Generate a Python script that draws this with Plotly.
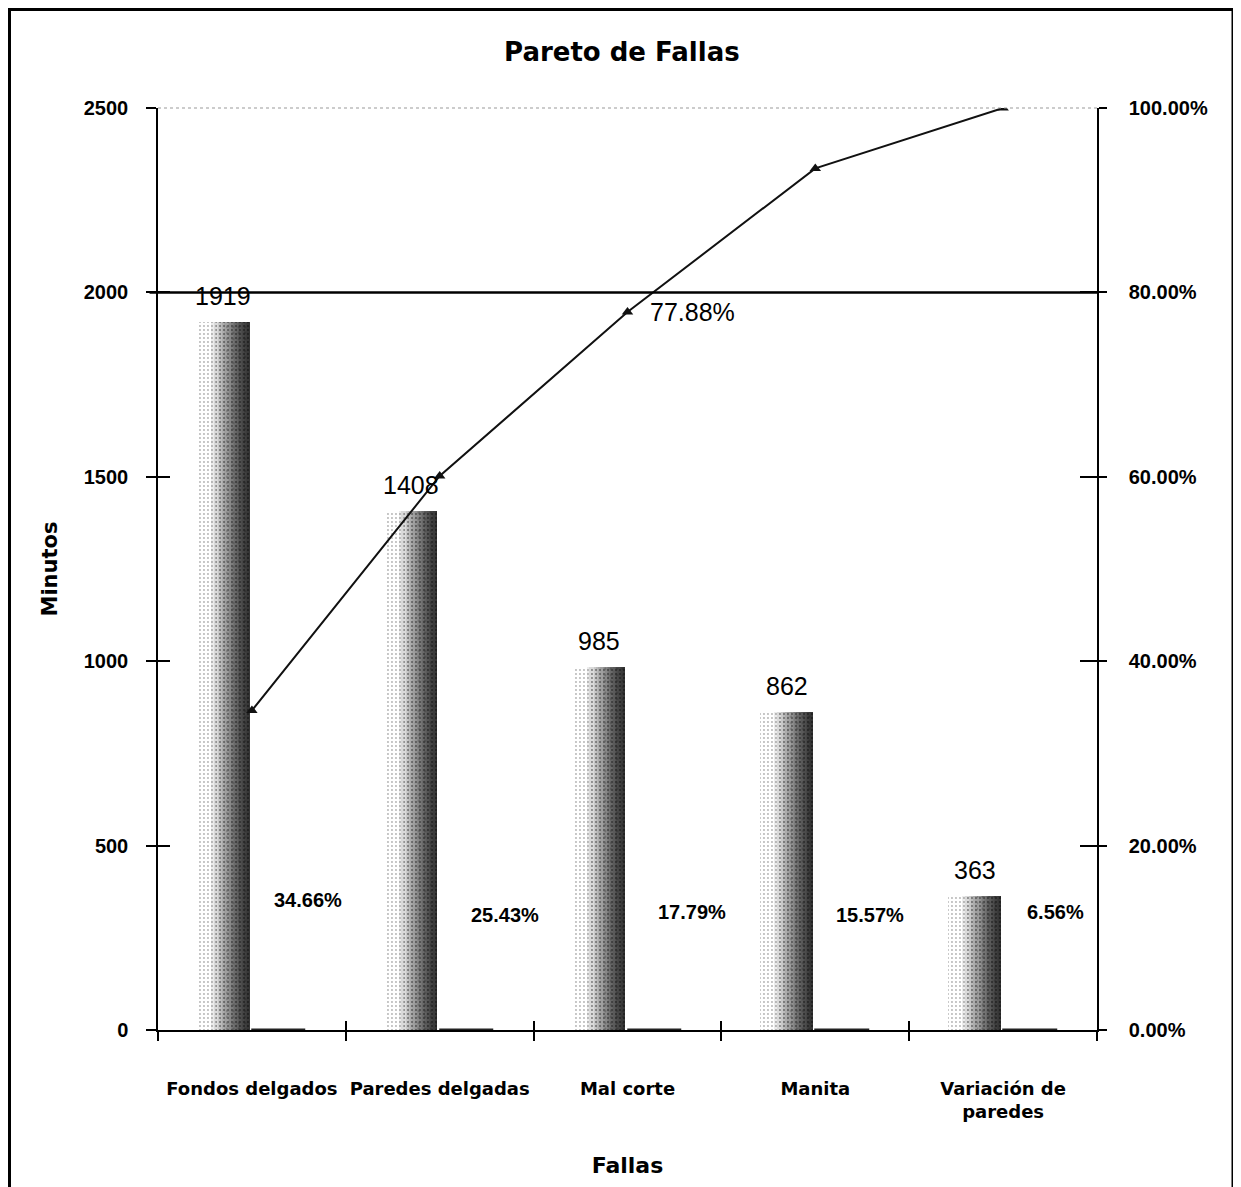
import plotly.graph_objects as go

# ---------------- data ----------------
categories = ["Fondos delgados", "Paredes delgadas", "Mal corte", "Manita", "Variación de<br>paredes"]
minutes = [1919, 1408, 985, 862, 363]
pct = [0.3466, 0.2543, 0.1779, 0.1557, 0.0656]
pct_labels = ["34.66%", "25.43%", "17.79%", "15.57%", "6.56%"]
cum_pct = [0.3466, 0.6009, 0.7788, 0.9345, 1.0]
left_ticks = [0, 500, 1000, 1500, 2000, 2500]
right_ticks = [0, 0.2, 0.4, 0.6, 0.8, 1.0]
threshold = 0.80

# ---------------- style / layout constants ----------------
x = list(range(len(categories)))
bounds = [i - 0.5 for i in range(len(categories) + 1)]
BAR_W = 0.28
BAR_RIGHT = -0.012
N_LAYERS = 22
layer_fracs = [0.0] + [0.2 + 0.75 * (k / (N_LAYERS - 1)) ** 0.8 for k in range(1, N_LAYERS)]
pct_label_dx = [0.30, 0.346, 0.344, 0.289, 0.281]
pct_label_y = [352, 312, 320, 312, 320]
NUM_FONT = "Liberation Sans, Arial, sans-serif"
WORD_FONT = "DejaVu Sans, sans-serif"

fig = go.Figure()

# gradient-like stippled bars built from overlaid right-aligned layers
for k, f in enumerate(layer_fracs):
    w = BAR_W * (1 - f)
    alpha = 0.04 if k == 0 else 0.075
    marker = dict(color=f"rgba(0,0,0,{alpha})", line=dict(width=0))
    if k in (0, 3, 8):
        marker["pattern"] = dict(shape=".", fgcolor="#666", bgcolor="rgba(0,0,0,0)",
                                 size=4 + k % 3, solidity=0.18, fillmode="overlay")
    fig.add_trace(go.Bar(x=x, y=minutes, width=[w] * len(x), offset=[BAR_RIGHT - w] * len(x),
                         marker=marker, showlegend=False, hoverinfo="skip"))

# percentage series (tiny bars on minutes axis)
fig.add_trace(go.Bar(x=x, y=pct, width=[0.29] * len(x), offset=[0.0] * len(x),
                     marker=dict(color="#222", line=dict(color="#222", width=1.5)),
                     showlegend=False, hoverinfo="skip"))

# cumulative line
fig.add_trace(go.Scatter(x=x, y=cum_pct, yaxis="y2", mode="lines+markers",
                         line=dict(color="#111", width=2),
                         marker=dict(symbol="triangle-up", size=10, color="#111"),
                         showlegend=False, hoverinfo="skip"))

# invisible anchors for overlay tick axes
fig.add_trace(go.Scatter(x=[0], y=[0], xaxis="x2", yaxis="y3", mode="markers",
                         marker=dict(opacity=0), showlegend=False, hoverinfo="skip"))
fig.add_trace(go.Scatter(x=[0], y=[0], xaxis="x3", yaxis="y4", mode="markers",
                         marker=dict(opacity=0), showlegend=False, hoverinfo="skip"))

annotations = []
for i, v in enumerate(minutes):
    annotations.append(dict(x=i + BAR_RIGHT - BAR_W / 2, y=v, xref="x", yref="y", text=str(v),
                            showarrow=False, yanchor="middle", yshift=26,
                            font=dict(family=NUM_FONT, size=25, color="black")))
for i, t in enumerate(pct_labels):
    annotations.append(dict(x=i + pct_label_dx[i], y=pct_label_y[i], xref="x", yref="y", text=t,
                            showarrow=False, yanchor="middle",
                            font=dict(family=NUM_FONT, size=20, color="black", weight="bold")))
annotations.append(dict(x=2, y=cum_pct[2], xref="x", yref="y2", text="77.88%",
                        showarrow=False, xanchor="left", yanchor="middle", xshift=20,
                        font=dict(family=NUM_FONT, size=25, color="black")))

W, H = 1241, 1187
ML, MT, MR, MB = 150, 100, 152, 165
pw, ph = W - ML - MR, H - MT - MB
shapes = [
    dict(type="line", xref="paper", yref="y2", x0=-0.009, x1=1, y0=threshold, y1=threshold,
         line=dict(color="black", width=2.5)),
    dict(type="line", xref="paper", yref="paper", x0=0, x1=1, y0=1, y1=1,
         line=dict(color="#999", width=1, dash="dot")),
    dict(type="rect", xref="paper", yref="paper",
         x0=(1.5 - ML) / pw, x1=(1225 - ML) / pw,
         y0=-(H - 1 - MT - ph + 40) / ph, y1=(MT - 1.5) / ph + 1,
         line=dict(color="black", width=3)),
]

axis_common = dict(showgrid=False, zeroline=False)
fig.update_layout(
    width=W, height=H,
    margin=dict(l=ML, r=MR, t=MT, b=MB),
    paper_bgcolor="white", plot_bgcolor="white",
    barmode="overlay", bargap=0,
    title=dict(text="Pareto de Fallas", x=0.494, xref="paper", y=1 - 44 / H, yanchor="middle",
               font=dict(family=WORD_FONT, size=26, color="black", weight="bold")),
    xaxis=dict(range=[-0.5, 4.5], tickvals=bounds, ticks="outside", ticklen=9, tickwidth=1.5,
               tickcolor="black", showticklabels=False, showline=True, linecolor="black",
               linewidth=1.5,
               title=dict(text="Fallas", standoff=118,
                          font=dict(family=WORD_FONT, size=22, color="black", weight="bold")),
               **axis_common),
    xaxis2=dict(overlaying="x", anchor="y", range=[-0.5, 4.5], tickvals=x, ticktext=categories,
                ticks="", showline=False, ticklabelstandoff=46,
                tickfont=dict(family=WORD_FONT, size=18, color="black", weight="bold"),
                **axis_common),
    xaxis3=dict(overlaying="x", anchor="y", range=[-0.5, 4.5], tickvals=bounds, ticks="inside",
                ticklen=9, tickwidth=1.5, tickcolor="black", showticklabels=False, showline=False,
                **axis_common),
    yaxis=dict(range=[0, 2500], tickvals=left_ticks, ticks="outside", ticklen=10, tickwidth=1.5,
               tickcolor="black", showline=True, linecolor="black", linewidth=1.5,
               ticklabelstandoff=14,
               tickfont=dict(family=NUM_FONT, size=20, color="black", weight="bold"),
               title=dict(text="Minutos", standoff=20,
                          font=dict(family=WORD_FONT, size=21, color="black", weight="bold")),
               **axis_common),
    yaxis2=dict(overlaying="y", side="right", anchor="x", range=[0, 1], tickvals=right_ticks,
                tickformat=".2%", ticks="outside", ticklen=8, tickwidth=1.5, tickcolor="black",
                showline=True, linecolor="black", linewidth=1.5, ticklabelstandoff=18,
                tickfont=dict(family=NUM_FONT, size=20, color="black", weight="bold"),
                **axis_common),
    yaxis3=dict(overlaying="y", side="left", anchor="x", range=[0, 2500], tickvals=left_ticks,
                ticks="inside", ticklen=12, tickwidth=1.5, tickcolor="black",
                showticklabels=False, showline=False, **axis_common),
    yaxis4=dict(overlaying="y", side="right", anchor="x", range=[0, 2500], tickvals=left_ticks,
                ticks="inside", ticklen=17, tickwidth=1.5, tickcolor="black",
                showticklabels=False, showline=False, **axis_common),
    annotations=annotations,
    shapes=shapes,
)

fig.write_html("out.html")
